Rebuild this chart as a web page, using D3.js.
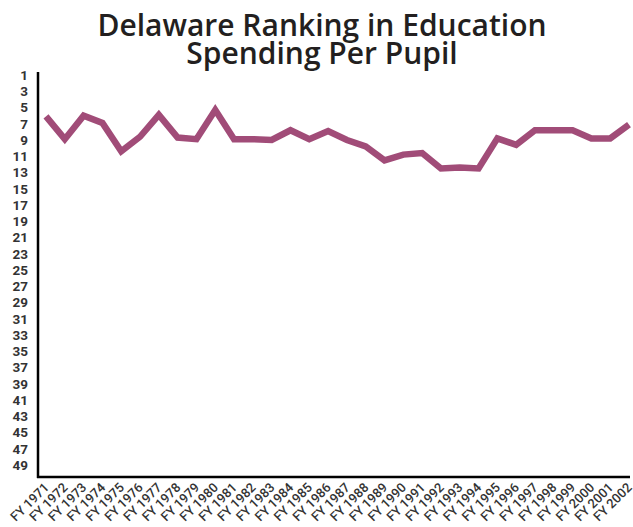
<!DOCTYPE html>
<html>
<head>
<meta charset="utf-8">
<script src="https://cdn.jsdelivr.net/npm/d3@7"></script>
<style>
  html, body { margin: 0; padding: 0; background: #fff; }
  svg { display: block; }
</style>
</head>
<body>
<svg id="chart" width="633" height="527"></svg>
<script>
const titleLines = ["Delaware Ranking in Education", "Spending Per Pupil"];
const years = ["FY 1971","FY 1972","FY 1973","FY 1974","FY 1975","FY 1976","FY 1977","FY 1978",
  "FY 1979","FY 1980","FY 1981","FY 1982","FY 1983","FY 1984","FY 1985","FY 1986",
  "FY 1987","FY 1988","FY 1989","FY 1990","FY 1991","FY 1992","FY 1993","FY 1994",
  "FY 1995","FY 1996","FY 1997","FY 1998","FY 1999","FY 2000","FY 2001","FY 2002"];
const ranks = [6.1, 8.9, 6.0, 6.9, 10.4, 8.6, 5.9, 8.7,
  8.9, 5.3, 8.9, 8.9, 9.0, 7.8, 8.9, 7.9,
  9.0, 9.8, 11.5, 10.8, 10.6, 12.5, 12.4, 12.5,
  8.8, 9.6, 7.8, 7.8, 7.8, 8.8, 8.8, 7.1];
const yTicks = d3.range(1, 50, 2);

const svg = d3.select("#chart");

// Title
svg.append("g").selectAll("text").data(titleLines).join("text")
  .attr("x", 322).attr("y", (d, i) => 36 + i * 28)
  .attr("text-anchor", "middle")
  .attr("font-family", "'Open Sans', sans-serif")
  .attr("font-weight", 600)
  .attr("font-size", 30)
  .attr("fill", "#231f20")
  .text(d => d);

const x = d3.scalePoint().domain(years).range([46, 629]);
const y = d3.scaleLinear().domain([1, 49]).range([75, 465]);

// Y axis
const yAxis = svg.append("g").attr("transform", "translate(38,0)")
  .call(d3.axisLeft(y).tickValues(yTicks).tickSize(0).tickPadding(10));
yAxis.select(".domain").remove();
yAxis.selectAll("text")
  .attr("font-family", "Roboto, sans-serif").attr("font-weight", 700)
  .attr("font-size", 13.5).attr("fill", "#333");

// X axis
const xAxis = svg.append("g").attr("transform", "translate(0,477)")
  .call(d3.axisBottom(x).tickSize(0));
xAxis.select(".domain").remove();
xAxis.selectAll("text")
  .attr("font-family", "Roboto, sans-serif").attr("font-weight", 500)
  .attr("font-size", 13).attr("fill", "#333")
  .attr("text-anchor", "end")
  .attr("x", 0).attr("y", 0)
  .attr("dy", "0.35em")
  .attr("transform", "translate(0,8) rotate(-45)");

// Axis lines
svg.append("line").attr("x1", 38).attr("x2", 38).attr("y1", 72).attr("y2", 478)
  .attr("stroke", "#000").attr("stroke-width", 2.5);
svg.append("line").attr("x1", 37).attr("x2", 630).attr("y1", 477).attr("y2", 477)
  .attr("stroke", "#000").attr("stroke-width", 2.5);

// Line
const line = d3.line().x((d, i) => x(years[i])).y(d => y(d));
svg.append("path").datum(ranks)
  .attr("d", line)
  .attr("fill", "none")
  .attr("stroke", "#a14c78")
  .attr("stroke-width", 6.5)
  .attr("stroke-linejoin", "miter");
</script>
</body>
</html>
